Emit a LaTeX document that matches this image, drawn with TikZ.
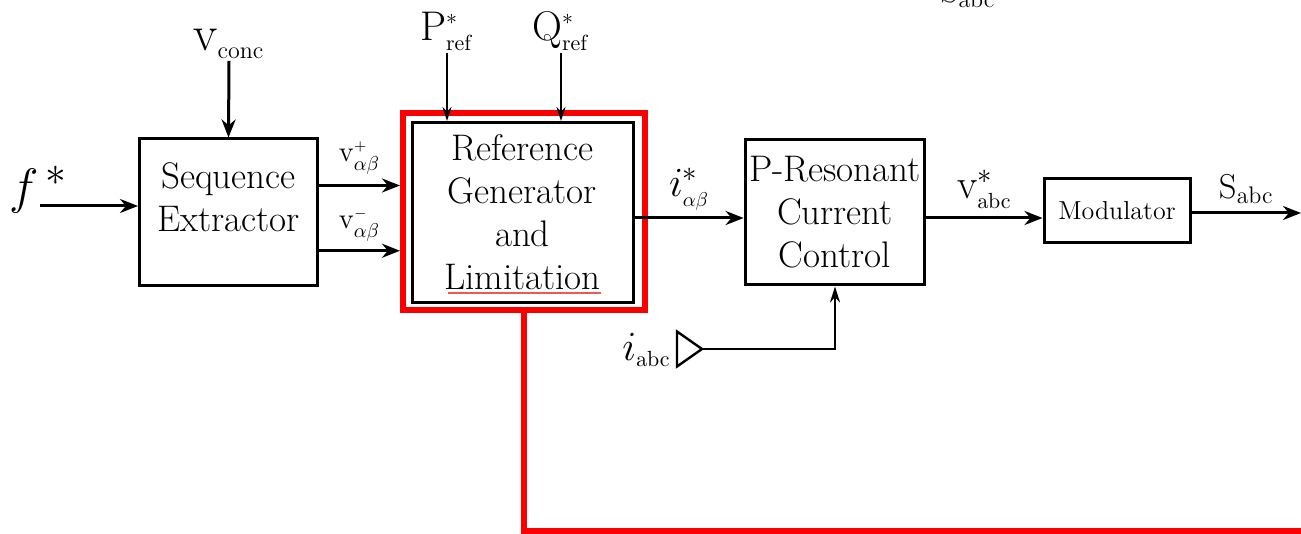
\documentclass[tikz,border=0pt]{standalone}
\usepackage{amsmath, amssymb}
\usepackage{tikz}
\usetikzlibrary{arrows.meta, positioning, calc}
\usepackage{xcolor}
\definecolor{limitred}{RGB}{250,0,0}
\definecolor{spellred}{RGB}{235,90,90}

\begin{document}
\begin{tikzpicture}[
    x=0.5pt, y=-0.5pt,
    block/.style={rectangle, draw=black, fill=white, line width=1.5pt, inner sep=2pt,
                  align=center, font=\fontsize{18.5}{21.5}\selectfont},
    sig/.style={inner sep=1pt, font=\fontsize{20}{20}\selectfont},
    arrow/.style={-{Stealth[length=9pt, width=7pt]}, line width=1.5pt},
    thinarrow/.style={-{Stealth[length=7pt, width=4.5pt]}, line width=0.8pt},
    fbarrow/.style={-{Stealth[length=8pt, width=5pt]}, line width=1.1pt},
    redline/.style={draw=limitred, line width=3pt}
]
\useasboundingbox (0,0) rectangle (1301,534);
%% blocks
\node[block, minimum width=89pt, minimum height=73.5pt] (seq) at (228.5,212.5)
    {Sequence\\Extractor\\[-6pt]};
\node[block, minimum width=110.5pt, minimum height=90pt] (ref) at (522.5,212.5)
    {Reference\\Generator\\and\\Limitation};
\node[draw=limitred, line width=3pt, minimum width=121pt, minimum height=98.5pt,
      inner sep=0pt] (lim) at (524,211.5) {};
\node[block, minimum width=88pt, minimum height=72.5pt] (prc) at (835,212.5)
    {P-Resonant\\Current\\Control};
\node[block, minimum width=73pt, minimum height=32pt, font=\fontsize{13}{15}\selectfont]
    (mod) at (1117,210.5) {Modulator};
\draw[spellred, line width=0.7pt] (448,293) -- (601,293);
%% input signals
\node[sig, font=\fontsize{28}{28}\selectfont] (fstar) at (38,190) {$f^{\,*}$};
\coordinate (fin) at (40,206);
\node[sig, font=\fontsize{25}{25}\selectfont] (vconc) at (229,44)
    {$\mathrm{v}_{\scriptscriptstyle\mathrm{conc}}$};
\node[sig, font=\fontsize{22}{22}\selectfont] (pref) at (447,31)
    {$\mathrm{P}^{\scriptscriptstyle *}_{\scriptscriptstyle\mathrm{ref}}$};
\node[sig, font=\fontsize{22}{22}\selectfont] (qref) at (561,31)
    {$\mathrm{Q}^{\scriptscriptstyle *}_{\scriptscriptstyle\mathrm{ref}}$};
\node[sig, font=\fontsize{17}{17}\selectfont, anchor=south, inner sep=0pt] (stop) at (968,8)
    {$\mathrm{S}_{\mathrm{abc}}$};
\draw[arrow] (fin) -- (fin -| seq.west);
\draw[arrow] (vconc.south) -- (seq.north);
\draw[thinarrow] (pref.south) -- (pref.south |- ref.north);
\draw[thinarrow] (qref.south) -- (qref.south |- ref.north);
%% sequence outputs
\coordinate (vp) at ($(seq.north east)!0.32!(seq.south east)$);
\coordinate (vn) at ($(seq.north east)!0.755!(seq.south east)$);
\draw[arrow] (vp) -- (vp -| lim.west)
    node[midway, above=4pt, sig, font=\fontsize{14}{14}\selectfont] {$\mathrm{v}^{\scriptscriptstyle +}_{\alpha\beta}$};
\draw[arrow] (vn) -- (vn -| lim.west)
    node[midway, above=3pt, sig, font=\fontsize{14}{14}\selectfont] {$\mathrm{v}^{\scriptscriptstyle -}_{\alpha\beta}$};
%% forward path
\draw[arrow] ([yshift=-2.75pt]ref.east) -- ([yshift=-2.75pt]prc.west)
    node[midway, above=2pt, sig] {$i^{*}_{\scriptscriptstyle\alpha\beta}$};
\coordinate (vo) at ([yshift=-2.75pt]prc.east);
\draw[arrow] (vo) -- (vo -| mod.west)
    node[midway, above=3pt, sig, font=\fontsize{22}{22}\selectfont] {$\mathrm{v}^{*}_{\scriptscriptstyle\mathrm{abc}}$};
\coordinate (sout) at (1301,213);
\draw[arrow] (mod.east |- sout) -- (sout)
    node[midway, above=3pt, sig, font=\fontsize{17}{17}\selectfont] {$\mathrm{S}_{\mathrm{abc}}$};
%% measured current
\coordinate (itip) at (702,349);
\draw[line width=1.2pt, line join=miter] (itip) -- ++(-25,-17.5) -- ++(0,35) -- cycle;
\node[sig, font=\fontsize{22}{22}\selectfont, anchor=east] (iabc) at (673,350)
    {$i_{\scriptscriptstyle\mathrm{abc}}$};
\draw[fbarrow] (itip) -| (prc.south);
%% limitation output
\coordinate (rout) at (1301,531);
\draw[redline] (lim.south) |- (rout);
\end{tikzpicture}
\end{document}
